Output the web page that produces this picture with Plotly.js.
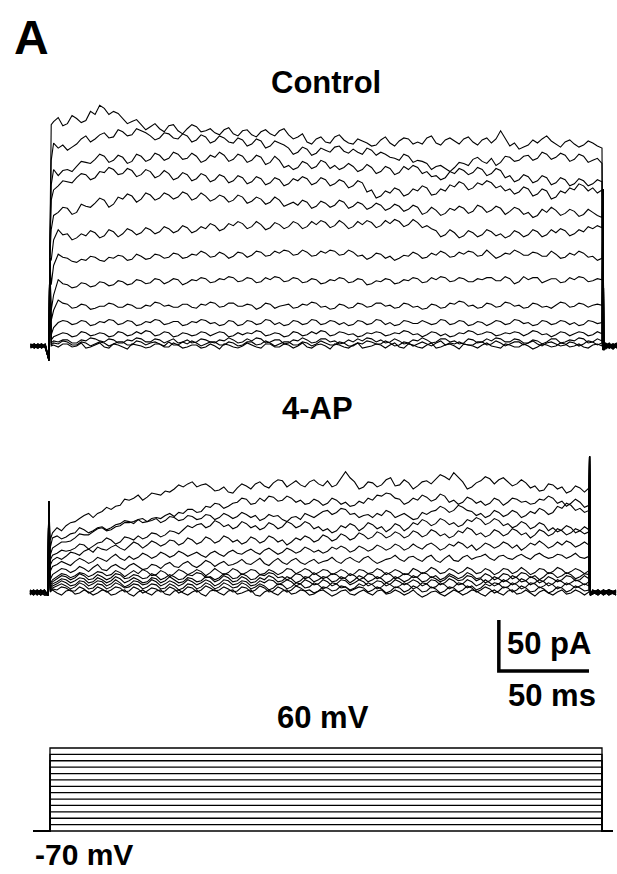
<!DOCTYPE html>
<html><head><meta charset="utf-8">
<script src="https://cdn.plot.ly/plotly-3.0.1.min.js"></script>
<style>html,body{margin:0;padding:0;background:#fff;}#chart{width:617px;height:874px;}</style>
</head><body><div id="chart"></div>
<script>
// ---------- time bases (ms) ----------
const T_PRE = [-10,-8,-6,-4,-2, 0,0.4, 1.2];
const T_STEP = [2.5,5,7.5,10,12.5,15,17.5,20,22.5,25,
  27.5,30,32.5,35,37.5,40,42.5,45,47.5,50,
  52.5,55,57.5,60,62.5,65,67.5,70,72.5,75,
  77.5,80,82.5,85,87.5,90,92.5,95,97.5,100,
  102.5,105,107.5,110,112.5,115,117.5,120,122.5,125,
  127.5,130,132.5,135,137.5,140,142.5,145,147.5,150,
  152.5,155,157.5,160,162.5,165,167.5,170,172.5,175,
  177.5,180,182.5,185,187.5,190,192.5,195,197.5,200,
  202.5,205,207.5,210,212.5,215,217.5,220,222.5,225,
  227.5,230,232.5,235,237.5,240,242.5,245,247.5,250,
  252.5,255,257.5,260,262.5,265,267.5,270,272.5,275,
  277.5,280,282.5,285,287.5,290,292.5,295,297.5,300];
const T_CTL_POST = [300.5,301,302,304,306,308];
const T_4AP_POST = [300.3,300.8,302,305,308,311,315];
const T_CTL = T_PRE.concat(T_STEP, T_CTL_POST);
const T_4AP = T_PRE.concat(T_STEP, T_4AP_POST);

// ---------- Control currents (pA): pre, onset transient, early, step (2.5 ms), tail ----------
const ctl1 = [1,-2,2,-1,1, -14,86, 217,
 220,224,216,218,226,223,219,221,230,227,
 236,233,227,230,228,223,218,220,222,217,
 212,215,218,213,210,216,217,211,208,213,
 217,215,210,211,213,209,207,212,214,208,
 206,211,212,207,205,210,212,208,206,211,
 213,207,203,205,208,200,198,203,205,200,
 199,205,207,202,199,198,203,201,199,196,
 197,202,205,199,196,201,204,203,198,200,
 198,204,206,199,197,202,204,201,198,203,
 205,200,197,202,204,199,203,211,204,196,
 199,193,195,197,202,199,203,206,201,198,
 195,200,202,198,195,197,201,199,196,194,
 -4,1,-1,2,-2,1];
const ctl2 = [-1,2,-2,1,0, -14,86, 182,
 199,194,197,192,195,198,203,206,200,203,
 207,209,204,205,212,210,206,207,213,211,
 209,206,202,204,209,208,204,203,208,206,
 200,202,207,205,199,201,206,204,200,199,
 204,202,196,198,203,201,194,196,201,199,
 197,194,188,190,195,193,187,189,194,192,
 190,195,196,191,189,193,190,188,194,192,
 187,190,188,185,184,182,188,186,180,182,
 181,179,173,176,177,174,171,175,180,179,
 177,183,185,181,179,184,177,180,186,185,
 181,182,186,187,182,184,190,188,183,185,
 189,187,181,183,188,186,180,182,184,179,
 -4,2,-2,1,0,-1];
const ctl3 = [2,0,-2,1,-1, -14,86, 158,
 173,167,172,173,171,176,181,180,179,183,
 188,186,180,182,187,185,179,181,188,186,
 181,183,189,187,182,184,190,188,183,184,
 189,186,180,182,187,185,190,187,181,183,
 188,186,180,182,187,185,178,180,186,182,
 175,177,173,175,181,179,174,176,182,180,
 174,177,173,175,179,176,171,173,178,175,
 169,171,176,174,168,170,176,173,177,175,
 169,171,166,167,163,165,171,169,174,172,
 168,170,175,173,167,169,174,172,165,167,
 161,163,168,166,160,162,167,165,158,160,
 165,163,157,159,164,162,157,159,163,161,
 -4,0,2,-1,1,-2];
const ctl4 = [-2,1,0,2,-1, -14,86, 143,
 153,157,162,161,160,165,169,168,163,165,
 171,170,175,173,168,169,174,172,166,168,
 173,171,165,167,172,169,163,165,170,168,
 162,164,169,167,161,163,168,166,160,162,
 167,165,159,161,166,164,158,160,165,163,
 157,159,164,162,166,164,158,160,165,163,
 157,159,163,161,155,157,162,160,151,153,
 145,147,152,150,155,153,147,149,154,152,
 157,155,148,149,154,152,158,156,161,159,
 153,155,160,158,162,160,155,157,152,154,
 149,151,156,154,147,149,154,152,144,146,
 152,150,155,153,159,157,152,155,150,153,
 -4,1,-1,-2,2,0];
const ctl5 = [0,-1,2,-2,1, -14,86, 114,
 128,131,136,135,129,131,139,137,136,140,
 145,143,136,139,146,144,149,147,141,144,
 150,148,143,145,150,148,144,146,151,149,
 143,145,150,147,142,144,148,146,141,143,
 148,146,140,142,146,144,139,141,146,143,
 137,139,141,138,143,141,135,137,142,140,
 136,138,143,141,135,137,141,139,134,136,
 140,138,133,135,139,137,132,134,138,136,
 129,131,136,133,128,130,135,133,137,135,
 130,132,138,136,131,133,137,135,129,132,
 136,134,129,131,126,128,134,131,136,133,
 128,130,134,132,127,129,134,131,128,126,
 154,-4,2,-1,1,-2];
const ctl6 = [1,2,-1,0,-2, -14,86, 84,
 104,114,109,110,104,106,110,108,113,111,
 106,108,114,112,107,110,115,113,109,111,
 116,114,110,112,117,115,111,113,118,116,
 111,113,117,115,120,118,113,115,120,118,
 122,120,115,117,122,119,114,116,121,119,
 115,117,122,120,115,117,122,119,123,121,
 116,118,123,120,115,117,122,119,123,121,
 116,118,123,120,124,122,117,119,124,121,
 116,118,115,113,107,109,114,111,106,108,
 113,111,107,109,114,112,108,110,106,108,
 113,111,107,109,114,112,107,109,114,111,
 115,113,108,110,114,112,117,115,118,116,
 154,-3,-1,2,-2,1];
const ctl7 = [-1,0,1,-2,2, -14,86, 60,
 79,90,87,86,83,82,85,84,88,87,
 84,83,87,86,89,88,84,85,90,88,
 85,86,90,89,86,87,91,90,86,87,
 90,89,93,91,87,88,92,90,86,88,
 92,91,87,89,93,92,88,89,93,91,
 94,93,89,90,94,92,88,89,93,91,
 94,93,89,90,94,92,88,89,85,87,
 91,90,86,88,84,86,89,88,92,90,
 86,87,91,89,93,91,87,88,92,90,
 93,92,88,89,94,90,86,88,91,90,
 94,92,89,89,92,91,88,88,93,90,
 86,87,91,89,93,91,87,88,84,86,
 154,-4,1,3,-1,2];
const ctl8 = [2,-2,0,1,-1, -14,86, 35,
 50,65,61,60,57,58,62,61,58,59,
 63,62,59,60,64,63,60,61,65,64,
 61,62,66,65,61,63,66,65,60,62,
 65,64,67,66,62,63,66,65,68,67,
 63,64,67,66,62,63,67,65,68,67,
 63,64,67,66,62,63,66,65,61,62,
 65,64,67,66,62,63,66,65,60,61,
 64,63,66,65,61,62,65,64,67,66,
 62,63,67,65,68,67,63,64,67,66,
 63,63,66,65,67,67,64,64,68,66,
 61,63,68,65,67,67,62,64,66,66,
 62,63,67,65,68,67,63,64,66,65,
 154,-2,-3,0,2,-1];
const ctl9 = [0,1,-1,2,-2, -14,86, 25,
 35,45,42,41,37,38,41,40,36,37,
 39,39,42,41,38,38,41,40,37,37,
 40,39,43,42,39,40,38,38,41,41,
 38,37,41,40,43,42,38,39,42,42,
 39,39,41,40,36,38,42,41,37,39,
 40,41,37,38,41,40,43,42,38,39,
 36,37,41,40,37,38,42,41,38,39,
 42,42,39,40,37,38,42,41,38,39,
 36,37,41,40,37,38,42,41,44,43,
 39,40,37,38,42,41,38,39,43,42,
 39,40,37,38,42,41,38,39,37,40,
 43,42,38,39,42,41,38,40,41,40,
 154,-4,2,-2,1,3];
const ctl10 = [-2,0,2,-1,1, -14,86, 11,
 18,23,25,24,21,22,25,24,20,21,
 24,23,26,25,21,22,25,24,20,21,
 24,23,26,25,21,22,24,24,20,21,
 24,23,26,25,22,23,20,21,25,24,
 20,21,25,24,21,22,26,25,21,23,
 20,21,25,24,21,22,26,25,21,22,
 25,24,21,23,20,21,25,24,21,22,
 26,25,21,23,20,21,25,24,22,22,
 25,23,21,22,26,25,21,22,25,24,
 20,21,24,23,20,22,25,24,21,22,
 26,25,22,23,20,21,25,24,21,22,
 25,24,21,23,20,21,25,24,22,23,
 154,-3,1,-1,-3,0];
const ctl11 = [1,-1,-2,0,2, -14,86, 6,
 9,11,13,12,9,10,14,13,10,11,
 13,12,9,10,14,13,10,11,14,12,
 15,14,10,11,14,13,9,10,13,12,
 10,11,14,13,10,12,14,13,9,10,
 13,11,13,12,15,14,10,11,13,12,
 9,10,14,13,10,11,14,12,15,14,
 10,11,14,13,11,12,9,10,13,12,
 14,13,10,11,13,12,15,14,11,12,
 9,11,14,13,10,12,9,10,13,12,
 15,14,11,12,14,13,10,11,13,12,
 14,13,10,12,15,14,11,12,9,11,
 14,13,10,12,14,13,10,11,14,12,
 154,-4,3,0,-2,2];
const ctl12 = [-1,2,0,-2,1, -14,86, 3,
 5,4,6,6,3,3,6,5,8,7,
 5,4,7,6,3,3,6,5,8,7,
 4,4,7,6,3,5,7,3,4,6,
 3,4,7,6,4,3,6,5,8,6,
 3,4,7,5,8,7,3,4,6,6,
 2,3,6,5,8,6,3,4,7,7,
 4,5,2,3,6,4,7,5,8,7,
 4,6,3,4,7,5,2,3,6,5,
 8,6,3,4,7,7,4,5,2,3,
 7,6,3,4,7,5,8,7,4,4,
 7,6,3,3,6,5,2,4,7,7,
 3,4,6,5,8,7,3,4,7,5,
 154,-2,0,2,-3,1];
const ctl13 = [2,-1,1,-1,0, -14,86, 1,
 3,2,5,4,1,1,4,3,0,2,
 4,3,0,2,4,4,1,1,5,4,
 1,3,4,2,0,4,1,1,4,2,
 5,3,0,2,4,4,1,1,4,3,
 0,1,4,4,1,2,5,3,0,2,
 4,4,1,1,4,3,0,2,5,3,
 1,1,4,3,0,0,3,2,5,4,
 2,2,5,3,0,1,4,3,0,2,
 4,2,0,3,5,1,3,2,4,2,
 1,1,4,4,1,2,5,3,0,2,
 4,4,1,3,5,2,0,3,4,2,
 0,1,4,3,0,2,5,4,1,3,
 154,-4,-1,1,2,-2];
const ctl14 = [0,-2,1,2,-1, -14,86, 0,
 1,-1,2,2,-1,0,3,-2,-1,1,
 3,-1,-2,2,1,-1,-3,2,1,0,
 -2,-1,2,2,-1,-1,3,1,-2,-1,
 1,1,-2,-1,2,0,-3,2,1,-1,
 -2,0,3,1,-1,-2,2,2,-1,-1,
 2,1,-2,0,3,-1,-2,1,2,0,
 -3,2,1,-1,-2,1,3,-2,-1,0,
 2,1,-2,1,3,-1,-2,2,1,-1,
 -2,1,3,-2,-1,1,2,0,-3,2,
 1,0,-2,1,3,0,-1,-2,2,1,
 -1,-1,2,0,-3,-1,2,1,-1,0,
 3,2,-1,0,2,-1,-2,1,2,0,
 154,-3,2,-2,0,3];

// ---------- 4-AP currents (pA) ----------
const ap1 = [0,-2,1,-1,2, -3,89, 51,
 58,63,60,65,68,69,72,75,77,73,
 77,79,83,81,84,85,91,90,92,95,
 90,93,97,96,95,99,98,101,105,103,
 106,108,103,105,106,103,99,100,103,98,
 97,102,106,104,101,106,108,104,102,107,
 110,109,103,106,109,105,103,108,110,106,
 104,109,103,105,111,118,112,108,101,103,
 108,107,103,105,110,112,104,105,110,107,
 101,104,108,109,106,111,115,113,110,117,
 112,108,101,103,107,109,113,111,106,110,
 112,108,104,106,110,107,102,104,99,100,
 106,105,101,103,97,99,104,102,98,102,
 133,-3,1,-2,0,2,-1];
const ap2 = [-1,1,-3,0,2, -3,89, 43,
 53,55,52,54,57,58,63,61,58,60,
 63,64,61,63,66,67,70,69,67,71,
 68,69,72,73,72,75,77,74,78,77,
 81,81,78,79,84,83,87,86,82,84,
 87,88,92,91,86,87,92,89,94,93,
 89,90,94,92,88,90,86,87,91,89,
 85,87,92,90,86,88,84,85,89,87,
 92,90,95,94,97,96,92,91,86,88,
 92,90,95,93,89,91,96,94,88,90,
 86,88,93,91,87,89,85,87,92,90,
 85,88,92,91,88,89,86,87,91,90,
 94,92,87,89,84,87,91,88,83,85,
 133,-3,-1,2,-3,0,1];
const ap3 = [2,-1,0,-3,1, -3,89, 36,
 43,46,49,49,50,53,57,56,56,59,
 62,63,60,61,64,65,68,68,69,71,
 72,69,70,72,68,70,74,73,70,71,
 75,74,71,72,76,75,71,73,77,75,
 72,74,78,76,73,75,70,72,76,74,
 75,71,69,73,74,71,77,75,73,76,
 79,80,76,78,82,81,76,77,73,75,
 76,73,77,75,80,78,73,75,77,74,
 71,72,78,76,79,80,84,82,78,80,
 85,83,80,79,75,77,73,75,80,78,
 74,76,80,78,73,75,79,77,82,80,
 76,78,84,82,87,85,80,82,78,80,
 133,-3,2,0,-2,1,-3];
const ap4 = [-2,0,2,-1,-3, -3,89, 31,
 36,38,41,40,41,43,47,46,42,45,
 48,49,53,51,47,49,54,53,51,55,
 52,54,58,57,54,56,60,59,57,61,
 65,63,66,67,63,65,70,68,64,66,
 62,64,69,67,63,65,61,63,68,66,
 62,64,69,67,63,65,69,67,62,64,
 60,62,58,60,65,63,67,65,60,63,
 68,66,62,64,59,62,67,65,60,63,
 68,66,71,69,65,67,72,70,66,68,
 64,66,71,69,73,71,66,68,72,70,
 65,67,63,65,69,67,62,64,68,66,
 60,63,59,61,65,63,58,60,64,61,
 133,-3,0,-3,1,-1,2];
const ap5 = [1,-3,0,2,-1, -3,89, 26,
 31,34,32,35,39,38,36,40,42,39,
 44,42,41,44,46,43,41,45,49,47,
 43,46,50,48,45,47,51,50,46,48,
 53,51,47,49,54,52,48,50,55,53,
 49,51,47,49,54,52,48,50,55,53,
 49,51,46,49,53,51,55,53,49,51,
 56,54,50,52,57,55,51,53,58,56,
 52,54,59,57,53,55,59,57,53,55,
 60,58,54,56,61,59,55,57,53,55,
 60,58,63,61,56,58,54,56,61,59,
 55,57,62,60,56,58,53,56,61,59,
 55,57,62,60,56,58,62,60,57,59,
 133,-3,1,-1,2,-3,0];
const ap6 = [-3,1,-1,0,2, -3,89, 20,
 25,27,30,28,26,30,33,31,28,30,
 34,32,30,34,37,33,31,35,32,34,
 38,36,33,35,39,37,34,36,40,38,
 35,37,39,36,34,38,40,37,35,39,
 41,38,37,40,42,39,37,41,43,40,
 37,39,43,41,38,40,44,42,39,41,
 38,40,44,42,45,43,39,41,45,43,
 40,42,46,44,41,43,47,45,41,43,
 47,44,42,46,48,45,41,43,47,45,
 49,47,43,46,41,44,48,46,43,45,
 49,47,43,46,41,44,48,46,50,47,
 43,45,49,46,50,48,44,46,49,46,
 133,-3,-2,1,-1,2,-2];
const ap7 = [0,2,-2,1,-1, -3,89, 12,
 17,20,23,22,19,21,25,23,20,24,
 27,22,21,25,27,24,22,26,28,25,
 22,23,27,26,23,27,29,25,24,28,
 30,26,24,27,31,29,25,28,30,26,
 27,29,32,28,27,30,33,28,26,30,
 33,29,27,31,33,29,27,30,32,28,
 30,31,34,30,28,32,34,31,29,33,
 35,31,28,30,32,33,36,32,30,34,
 35,32,30,34,36,31,29,33,36,31,
 30,34,36,32,34,35,37,33,31,35,
 36,33,32,35,37,34,32,36,38,35,
 33,34,37,36,33,35,38,34,33,35,
 133,-3,0,2,-2,-1,1];
const ap8 = [2,0,-1,-3,1, -3,89, 8,
 12,15,18,17,14,16,19,18,15,17,
 20,19,16,17,21,19,15,18,21,18,
 22,20,16,17,21,19,15,18,22,20,
 17,19,22,20,16,19,23,20,17,19,
 23,21,17,19,22,21,17,18,22,20,
 17,19,23,22,18,20,23,21,17,19,
 22,21,17,19,22,20,16,18,22,21,
 18,19,23,21,17,19,22,20,17,18,
 23,21,18,20,24,22,18,19,23,21,
 18,20,24,22,18,19,23,21,17,19,
 23,22,18,20,24,21,17,19,23,22,
 18,20,24,22,18,20,23,21,18,21,
 133,-3,-2,0,1,-3,2];
const ap9 = [-1,-3,2,0,1, -3,89, 6,
 10,13,16,15,12,14,18,16,12,13,
 17,15,12,14,18,17,13,14,17,16,
 13,14,18,16,12,14,17,15,12,13,
 17,16,19,18,14,15,12,14,18,17,
 13,14,18,16,12,13,17,16,19,18,
 14,15,12,14,18,17,13,15,19,16,
 13,15,18,17,13,14,18,16,12,14,
 18,17,13,15,19,17,13,15,18,17,
 14,15,19,18,14,16,12,14,18,16,
 13,15,19,17,13,14,18,16,12,14,
 18,17,13,15,19,18,14,16,12,15,
 19,18,14,16,19,17,13,15,18,17,
 133,-3,1,-2,2,0,-3];
const ap10 = [1,-1,-2,2,-3, -3,89, 4,
 8,10,13,12,9,11,14,13,9,10,
 14,12,9,11,15,13,9,11,14,12,
 9,10,14,13,9,11,15,12,9,10,
 14,13,10,11,15,14,10,12,16,14,
 10,11,15,13,9,10,14,12,16,14,
 10,11,15,13,9,11,15,14,10,12,
 15,14,10,11,15,13,9,12,16,14,
 10,12,15,13,9,11,15,13,10,12,
 16,14,10,11,15,13,10,12,16,14,
 11,12,16,15,11,13,9,11,15,13,
 10,12,16,14,10,11,15,13,9,11,
 15,13,10,12,16,15,11,12,16,13,
 133,-3,-1,1,-3,2,0];
const ap11 = [-2,2,0,-1,1, -3,89, 3,
 6,8,11,9,6,7,11,10,6,8,
 11,10,6,8,12,9,5,7,11,10,
 7,8,12,10,6,8,11,9,6,8,
 12,10,7,9,12,10,6,8,12,11,
 7,8,11,10,6,7,11,9,12,11,
 7,9,12,10,6,8,12,10,7,8,
 12,10,6,8,12,11,7,9,12,10,
 6,8,11,10,6,8,12,10,7,9,
 12,10,6,8,12,11,7,9,13,11,
 7,8,12,10,6,8,12,9,6,8,
 12,10,7,9,13,11,7,9,12,10,
 6,8,12,10,7,9,12,10,7,10,
 133,-3,2,-1,0,-2,1];
const ap12 = [0,-2,1,-3,2, -3,89, 2,
 4,6,8,6,3,5,9,7,3,4,
 8,7,3,5,9,7,4,5,8,7,
 3,5,8,7,3,4,8,6,2,4,
 8,7,3,5,9,7,3,5,9,7,
 4,5,9,7,3,5,8,6,2,4,
 8,7,3,5,9,8,4,5,9,7,
 3,5,9,8,4,5,2,4,8,6,
 9,7,3,5,9,7,4,6,9,7,
 3,5,9,8,4,5,9,7,3,5,
 9,8,4,6,2,4,8,6,9,8,
 4,5,9,7,3,5,9,8,4,6,
 9,7,3,5,9,7,4,6,8,6,
 133,-3,-2,2,-1,1,-3];
const ap13 = [1,0,-3,2,-1, -3,89, 1,
 3,2,5,4,1,1,5,3,-1,1,
 5,3,0,2,5,4,0,1,5,3,
 -1,1,4,3,0,1,5,3,-1,1,
 5,4,0,2,6,4,1,2,5,3,
 0,1,5,4,0,2,6,4,0,1,
 5,3,0,2,6,4,1,2,-1,1,
 5,4,1,2,6,5,1,3,5,4,
 0,2,5,3,-1,1,5,4,0,2,
 6,4,0,1,5,3,-1,1,5,4,
 0,2,6,4,0,2,5,3,-1,1,
 5,4,0,2,6,4,0,1,5,3,
 -1,1,5,4,0,2,6,4,1,2,
 133,-3,0,-3,2,-1,1];
const ap14 = [-2,1,0,-1,-3, -3,89, 0,
 2,-1,-3,1,2,-2,-1,2,0,-3,
 -1,2,1,-3,-2,1,2,-2,-4,0,
 2,-1,-3,1,2,-2,-3,1,2,-1,
 -3,0,2,-2,-4,1,2,-1,-3,1,
 2,-2,-1,1,2,-3,-4,0,2,-1,
 -3,1,2,-2,-1,2,1,-3,-2,1,
 2,-1,-4,-2,1,2,-2,-3,0,2,
 -1,-3,1,2,-2,-1,2,0,-3,-1,
 2,-2,-5,-3,0,1,-2,-4,-1,2,
 0,-3,-1,2,1,-2,-4,0,2,-1,
 -3,1,2,-2,-1,2,-1,-4,0,2,
 -1,-3,0,2,-2,-1,2,0,-3,0,
 133,-3,1,-2,0,2,-1];

// ---------- voltage protocol ----------
const V_HOLD = -70;
const V_STEPS = [-70,-60,-50,-40,-30,-20,-10,0,10,20,30,40,50,60];
const PROTOCOL_T = [-9, 0, 300, 306];   // baseline start, step on, step off, baseline end (ms)

// ---------- scale bar ----------
const SCALE_PA = 50, SCALE_MS = 50;
const SCALE_ORIGIN = [250, -77.5];  // corner, in 4-AP panel units (ms, pA)

const W = 617, H = 874;
const yd = (top, bot) => [1 - bot / H, 1 - top / H];

const data = [];
const line = {color: '#000', width: 1.1};
[ctl1,ctl2,ctl3,ctl4,ctl5,ctl6,ctl7,ctl8,ctl9,ctl10,ctl11,ctl12,ctl13,ctl14].forEach(y => {
  data.push({x: T_CTL, y: y, xaxis: 'x', yaxis: 'y', mode: 'lines', line: line, hoverinfo: 'skip'});
});
[ap1,ap2,ap3,ap4,ap5,ap6,ap7,ap8,ap9,ap10,ap11,ap12,ap13,ap14].forEach(y => {
  data.push({x: T_4AP, y: y, xaxis: 'x2', yaxis: 'y2', mode: 'lines', line: line, hoverinfo: 'skip'});
});
V_STEPS.forEach(v => {
  data.push({
    x: [PROTOCOL_T[0], PROTOCOL_T[1], PROTOCOL_T[1], PROTOCOL_T[2], PROTOCOL_T[2], PROTOCOL_T[3]],
    y: [V_HOLD, V_HOLD, v, v, V_HOLD, V_HOLD],
    xaxis: 'x3', yaxis: 'y3', mode: 'lines', line: {color: '#000', width: 1.3}, hoverinfo: 'skip'
  });
});
data.push({
  x: [SCALE_ORIGIN[0], SCALE_ORIGIN[0], SCALE_ORIGIN[0] + SCALE_MS],
  y: [SCALE_ORIGIN[1] + SCALE_PA, SCALE_ORIGIN[1], SCALE_ORIGIN[1]],
  xaxis: 'x2', yaxis: 'y2', mode: 'lines', line: {color: '#000', width: 3.5}, hoverinfo: 'skip'
});

const hidden = {visible: false, showgrid: false, zeroline: false, fixedrange: true};
const FONT = 'Liberation Sans, Arial, Helvetica, sans-serif';
function ann(text, px, py, xanchor, size) {
  return {text: '<b>' + text + '</b>', x: px / W, y: 1 - py / H, xref: 'paper', yref: 'paper',
    xanchor: xanchor, yanchor: 'middle', showarrow: false, font: {family: FONT, size: size, color: '#000'}};
}

const layout = {
  width: W, height: H, margin: {l: 0, r: 0, t: 0, b: 0},
  paper_bgcolor: '#fff', plot_bgcolor: 'rgba(0,0,0,0)', showlegend: false,
  xaxis: Object.assign({}, hidden, {domain: [0, 1], range: [-26.58, 308.14]}),
  yaxis: Object.assign({}, hidden, {domain: yd(90, 370), range: [-23.53, 250.98]}),
  xaxis2: Object.assign({}, hidden, {domain: [0, 1], range: [-26.62, 315.53], anchor: 'y2'}),
  yaxis2: Object.assign({}, hidden, {domain: yd(440, 680), range: [-86.27, 149.02], anchor: 'x2'}),
  xaxis3: Object.assign({}, hidden, {domain: [0, 1], range: [-27.17, 308.15], anchor: 'y3'}),
  yaxis3: Object.assign({}, hidden, {domain: yd(735, 845), range: [-91.93, 80.35], anchor: 'x3'}),
  annotations: [
    ann('A', 12, 37, 'left', 48),
    ann('Control', 326, 82, 'center', 31),
    ann('4-AP', 318, 408, 'center', 31),
    ann('50 pA', 505, 643, 'left', 31),
    ann('50 ms', 506, 695, 'left', 31),
    ann('60 mV', 323, 717, 'center', 31),
    ann('-70 mV', 33, 854, 'left', 30)
  ]
};
Plotly.newPlot('chart', data, layout, {staticPlot: true, displayModeBar: false});
</script>
</body></html>
